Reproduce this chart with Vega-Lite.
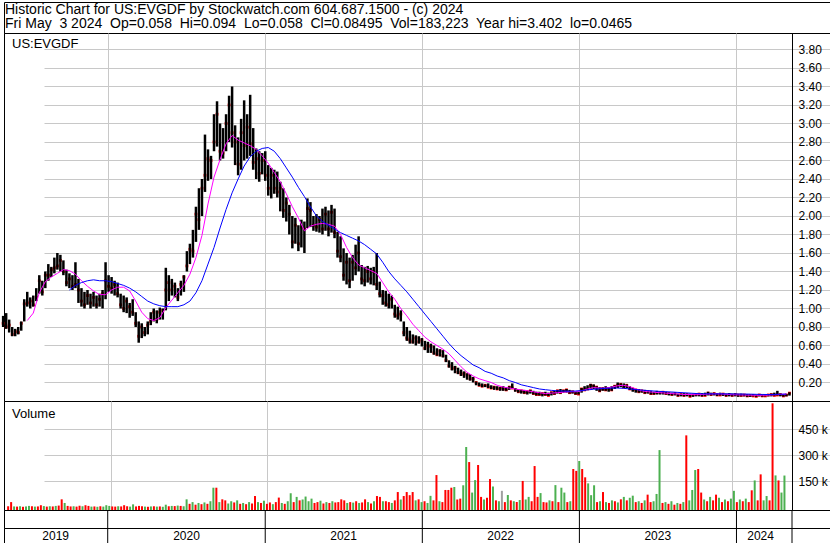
{
"$schema":"https://vega.github.io/schema/vega-lite/v6.json",
"padding":{"left":1,"top":1,"right":0,"bottom":0},
"spacing":0,
"bounds":"flush",
"background":"white",
"config":{"view":{"stroke":"#000","strokeWidth":1},"font":"Liberation Sans","axis":{"labelFont":"Liberation Sans","labelColor":"#000","gridColor":"#c8c8c8","gridOpacity":1,"gridWidth":1},"title":{"font":"Liberation Sans","fontWeight":"normal","fontSize":13,"color":"#000"}},
"datasets":{
"hdr":[{"t":["Historic Chart for US:EVGDF by Stockwatch.com 604.687.1500 - (c) 2024","Fri May\u00a0 3 2024\u00a0 Op=0.058\u00a0 Hi=0.094\u00a0 Lo=0.058\u00a0 Cl=0.08495\u00a0 Vol=183,223\u00a0 Year hi=3.402\u00a0 lo=0.0465"]}],
"yb":[{"d":"2020-01-01"},{"d":"2021-01-01"},{"d":"2022-01-01"},{"d":"2023-01-01"},{"d":"2024-01-01"},{"d":"2024-05-09"}],
"yl":[{"yr":"2019","d":"2019-09-02"},{"yr":"2020","d":"2020-07-02"},{"yr":"2021","d":"2021-07-02"},{"yr":"2022","d":"2022-07-02"},{"yr":"2023","d":"2023-07-02"},{"yr":"2024","d":"2024-02-26"}],
"p":[
{"d":"2019-05-03","h":0.92,"l":0.80,"c":0.84,"v":6000,"s":"d"},
{"d":"2019-05-10","h":0.95,"l":0.78,"c":0.80,"v":30000,"s":"d"},
{"d":"2019-05-17","h":0.88,"l":0.74,"c":0.82,"v":5000,"s":"u"},
{"d":"2019-05-24","h":0.80,"l":0.70,"c":0.72,"v":4000,"s":"d"},
{"d":"2019-05-31","h":0.78,"l":0.70,"c":0.75,"v":6000,"s":"u"},
{"d":"2019-06-07","h":0.80,"l":0.72,"c":0.74,"v":3000,"s":"d"},
{"d":"2019-06-14","h":0.86,"l":0.76,"c":0.84,"v":5000,"s":"u"},
{"d":"2019-06-21","h":1.10,"l":0.86,"c":1.05,"v":8000,"s":"u"},
{"d":"2019-06-28","h":1.18,"l":1.02,"c":1.06,"v":6000,"s":"d","m1":0.87},
{"d":"2019-07-05","h":1.12,"l":1.00,"c":1.08,"v":4000,"s":"u"},
{"d":"2019-07-12","h":1.14,"l":1.02,"c":1.04,"v":5000,"s":"d","m1":0.95},
{"d":"2019-07-19","h":1.22,"l":1.08,"c":1.12,"v":12000,"s":"d"},
{"d":"2019-07-26","h":1.36,"l":1.16,"c":1.30,"v":7000,"s":"u","m1":1.17},
{"d":"2019-08-02","h":1.30,"l":1.14,"c":1.18,"v":4000,"s":"d"},
{"d":"2019-08-09","h":1.40,"l":1.22,"c":1.36,"v":6000,"s":"u","m1":1.29},
{"d":"2019-08-16","h":1.48,"l":1.30,"c":1.36,"v":5000,"s":"d"},
{"d":"2019-08-23","h":1.45,"l":1.34,"c":1.42,"v":8000,"s":"u","m1":1.34},
{"d":"2019-08-30","h":1.55,"l":1.38,"c":1.44,"v":10000,"s":"d"},
{"d":"2019-09-06","h":1.60,"l":1.42,"c":1.46,"v":46000,"s":"d","m1":1.38},
{"d":"2019-09-13","h":1.58,"l":1.40,"c":1.52,"v":25000,"s":"u"},
{"d":"2019-09-20","h":1.52,"l":1.36,"c":1.40,"v":8000,"s":"d","m1":1.42},
{"d":"2019-09-27","h":1.42,"l":1.24,"c":1.28,"v":5000,"s":"d"},
{"d":"2019-10-04","h":1.38,"l":1.22,"c":1.32,"v":6000,"s":"u","m1":1.41,"m2":1.20},
{"d":"2019-10-11","h":1.36,"l":1.20,"c":1.24,"v":4000,"s":"d"},
{"d":"2019-10-18","h":1.50,"l":1.22,"c":1.26,"v":9000,"s":"d","m1":1.37,"m2":1.25},
{"d":"2019-10-25","h":1.32,"l":1.06,"c":1.20,"v":6000,"s":"u"},
{"d":"2019-11-01","h":1.22,"l":1.02,"c":1.08,"v":12000,"s":"d","m1":1.30,"m2":1.28},
{"d":"2019-11-08","h":1.18,"l":1.00,"c":1.04,"v":8000,"s":"d"},
{"d":"2019-11-15","h":1.20,"l":1.04,"c":1.14,"v":4000,"s":"u","m1":1.24,"m2":1.30},
{"d":"2019-11-22","h":1.16,"l":1.00,"c":1.06,"v":5000,"s":"d"},
{"d":"2019-11-29","h":1.18,"l":1.02,"c":1.12,"v":3000,"s":"u","m1":1.19,"m2":1.31},
{"d":"2019-12-06","h":1.14,"l":1.00,"c":1.04,"v":6000,"s":"d"},
{"d":"2019-12-13","h":1.16,"l":1.02,"c":1.10,"v":4000,"s":"u","m1":1.15,"m2":1.30},
{"d":"2019-12-20","h":1.20,"l":1.00,"c":1.16,"v":12000,"s":"u"},
{"d":"2019-12-27","h":1.50,"l":1.10,"c":1.30,"v":8000,"s":"u","m1":1.15,"m2":1.30},
{"d":"2020-01-03","h":1.36,"l":1.18,"c":1.24,"v":5000,"s":"d"},
{"d":"2020-01-10","h":1.34,"l":1.16,"c":1.22,"v":4000,"s":"d","m1":1.20,"m2":1.29},
{"d":"2020-01-17","h":1.30,"l":1.14,"c":1.26,"v":6000,"s":"u"},
{"d":"2020-01-24","h":1.28,"l":1.12,"c":1.16,"v":5000,"s":"d","m1":1.23,"m2":1.27},
{"d":"2020-01-31","h":1.16,"l":1.00,"c":1.04,"v":12000,"s":"d"},
{"d":"2020-02-07","h":1.14,"l":0.96,"c":1.00,"v":6000,"s":"d","m1":1.23,"m2":1.25},
{"d":"2020-02-14","h":1.12,"l":0.95,"c":1.08,"v":4000,"s":"u"},
{"d":"2020-02-21","h":1.06,"l":0.90,"c":1.02,"v":17000,"s":"u","m1":1.19,"m2":1.22},
{"d":"2020-02-28","h":1.10,"l":0.92,"c":0.96,"v":5000,"s":"d"},
{"d":"2020-03-06","h":0.96,"l":0.80,"c":0.84,"v":8000,"s":"d","m1":1.08,"m2":1.18},
{"d":"2020-03-13","h":0.86,"l":0.63,"c":0.70,"v":6000,"s":"d"},
{"d":"2020-03-20","h":0.84,"l":0.68,"c":0.80,"v":4000,"s":"u","m1":0.96,"m2":1.13},
{"d":"2020-03-27","h":0.80,"l":0.70,"c":0.74,"v":3000,"s":"d"},
{"d":"2020-04-03","h":0.86,"l":0.72,"c":0.82,"v":5000,"s":"u","m1":0.89,"m2":1.08},
{"d":"2020-04-10","h":0.96,"l":0.82,"c":0.86,"v":6000,"s":"d"},
{"d":"2020-04-17","h":1.00,"l":0.86,"c":0.96,"v":4000,"s":"u","m1":0.87,"m2":1.05},
{"d":"2020-04-24","h":0.98,"l":0.84,"c":0.88,"v":5000,"s":"d"},
{"d":"2020-05-01","h":1.01,"l":0.88,"c":0.96,"v":3000,"s":"u","m1":0.90,"m2":1.03},
{"d":"2020-05-08","h":1.00,"l":0.88,"c":0.98,"v":15000,"s":"u"},
{"d":"2020-05-15","h":1.44,"l":0.98,"c":1.20,"v":6000,"s":"d","m1":1.01,"m2":1.02},
{"d":"2020-05-22","h":1.36,"l":1.08,"c":1.28,"v":8000,"s":"u"},
{"d":"2020-05-29","h":1.32,"l":1.14,"c":1.20,"v":7000,"s":"d","m1":1.09,"m2":1.02},
{"d":"2020-06-05","h":1.28,"l":1.12,"c":1.24,"v":10000,"s":"u"},
{"d":"2020-06-12","h":1.22,"l":1.08,"c":1.12,"v":8000,"s":"d","m1":1.17,"m2":1.02},
{"d":"2020-06-19","h":1.30,"l":1.14,"c":1.26,"v":6000,"s":"u"},
{"d":"2020-06-26","h":1.36,"l":1.18,"c":1.34,"v":46000,"s":"u","m1":1.25,"m2":1.04},
{"d":"2020-07-03","h":1.62,"l":1.40,"c":1.46,"v":20000,"s":"d"},
{"d":"2020-07-10","h":1.70,"l":1.48,"c":1.64,"v":30000,"s":"u","m1":1.37,"m2":1.08},
{"d":"2020-07-17","h":1.85,"l":1.55,"c":1.62,"v":15000,"s":"d"},
{"d":"2020-07-24","h":2.10,"l":1.72,"c":2.02,"v":25000,"s":"u","m1":1.55,"m2":1.17},
{"d":"2020-07-31","h":2.30,"l":1.85,"c":1.96,"v":18000,"s":"d"},
{"d":"2020-08-07","h":2.40,"l":2.00,"c":2.30,"v":28000,"s":"u","m1":1.79,"m2":1.30},
{"d":"2020-08-14","h":2.88,"l":2.26,"c":2.44,"v":20000,"s":"d"},
{"d":"2020-08-21","h":2.72,"l":2.38,"c":2.62,"v":35000,"s":"u","m1":2.13,"m2":1.48},
{"d":"2020-08-28","h":2.65,"l":2.40,"c":2.60,"v":113000,"s":"u"},
{"d":"2020-09-04","h":3.10,"l":2.70,"c":2.80,"v":113000,"s":"d","m1":2.42,"m2":1.66},
{"d":"2020-09-11","h":3.24,"l":2.75,"c":3.10,"v":30000,"s":"u"},
{"d":"2020-09-18","h":3.00,"l":2.60,"c":2.70,"v":46000,"s":"d","m1":2.61,"m2":1.87},
{"d":"2020-09-25","h":2.95,"l":2.62,"c":2.68,"v":40000,"s":"d"},
{"d":"2020-10-02","h":3.10,"l":2.70,"c":3.00,"v":22000,"s":"u","m1":2.78,"m2":2.07},
{"d":"2020-10-09","h":3.30,"l":2.80,"c":3.20,"v":35000,"s":"u"},
{"d":"2020-10-16","h":3.40,"l":2.74,"c":2.90,"v":28000,"s":"d","m1":2.87,"m2":2.25},
{"d":"2020-10-23","h":2.98,"l":2.55,"c":2.80,"v":40000,"s":"u"},
{"d":"2020-10-30","h":2.85,"l":2.44,"c":2.56,"v":20000,"s":"d","m1":2.82,"m2":2.40},
{"d":"2020-11-06","h":3.05,"l":2.50,"c":2.90,"v":25000,"s":"u"},
{"d":"2020-11-13","h":3.25,"l":2.60,"c":2.76,"v":18000,"s":"d","m1":2.79,"m2":2.54},
{"d":"2020-11-20","h":3.10,"l":2.62,"c":2.96,"v":30000,"s":"u"},
{"d":"2020-11-27","h":3.31,"l":2.65,"c":2.78,"v":22000,"s":"d","m1":2.76,"m2":2.64},
{"d":"2020-12-04","h":2.95,"l":2.50,"c":2.58,"v":65000,"s":"d"},
{"d":"2020-12-11","h":2.73,"l":2.40,"c":2.62,"v":30000,"s":"u","m1":2.72,"m2":2.70},
{"d":"2020-12-18","h":2.70,"l":2.37,"c":2.46,"v":25000,"s":"d"},
{"d":"2020-12-25","h":2.68,"l":2.45,"c":2.60,"v":38000,"s":"u","m1":2.65,"m2":2.73},
{"d":"2021-01-01","h":2.70,"l":2.38,"c":2.44,"v":20000,"s":"d"},
{"d":"2021-01-08","h":2.55,"l":2.22,"c":2.30,"v":28000,"s":"d","m1":2.57,"m2":2.74},
{"d":"2021-01-15","h":2.52,"l":2.19,"c":2.44,"v":18000,"s":"u"},
{"d":"2021-01-22","h":2.50,"l":2.24,"c":2.30,"v":30000,"s":"d","m1":2.47,"m2":2.70},
{"d":"2021-01-29","h":2.48,"l":2.20,"c":2.26,"v":56000,"s":"d"},
{"d":"2021-02-05","h":2.37,"l":2.05,"c":2.30,"v":25000,"s":"u","m1":2.37,"m2":2.62},
{"d":"2021-02-12","h":2.30,"l":1.98,"c":2.06,"v":20000,"s":"d"},
{"d":"2021-02-19","h":2.20,"l":1.94,"c":2.14,"v":35000,"s":"u","m1":2.24,"m2":2.52},
{"d":"2021-02-26","h":2.12,"l":1.80,"c":2.02,"v":81000,"s":"u"},
{"d":"2021-03-05","h":2.00,"l":1.65,"c":1.72,"v":30000,"s":"d","m1":2.10,"m2":2.42},
{"d":"2021-03-12","h":1.98,"l":1.70,"c":1.90,"v":60000,"s":"u"},
{"d":"2021-03-19","h":1.90,"l":1.62,"c":1.70,"v":40000,"s":"d","m1":1.98,"m2":2.31},
{"d":"2021-03-26","h":1.96,"l":1.66,"c":1.88,"v":45000,"s":"u"},
{"d":"2021-04-02","h":1.94,"l":1.60,"c":1.86,"v":62000,"s":"u","m1":1.84,"m2":2.21},
{"d":"2021-04-09","h":2.19,"l":1.87,"c":2.08,"v":35000,"s":"u"},
{"d":"2021-04-16","h":2.15,"l":1.88,"c":2.06,"v":50000,"s":"u","m1":1.89,"m2":2.10},
{"d":"2021-04-23","h":2.00,"l":1.84,"c":1.90,"v":25000,"s":"d"},
{"d":"2021-04-30","h":2.02,"l":1.83,"c":1.88,"v":30000,"s":"d","m1":1.91,"m2":2.00},
{"d":"2021-05-07","h":2.00,"l":1.82,"c":1.96,"v":38000,"s":"u"},
{"d":"2021-05-14","h":2.08,"l":1.80,"c":1.86,"v":22000,"s":"d","m1":1.92,"m2":1.94},
{"d":"2021-05-21","h":2.10,"l":1.84,"c":2.02,"v":30000,"s":"u"},
{"d":"2021-05-28","h":2.06,"l":1.78,"c":1.86,"v":25000,"s":"d","m1":1.91,"m2":1.90},
{"d":"2021-06-04","h":2.12,"l":1.82,"c":2.04,"v":35000,"s":"u"},
{"d":"2021-06-11","h":2.08,"l":1.76,"c":1.82,"v":28000,"s":"d","m1":1.89,"m2":1.86},
{"d":"2021-06-18","h":1.83,"l":1.55,"c":1.62,"v":30000,"s":"d"},
{"d":"2021-06-25","h":1.78,"l":1.50,"c":1.56,"v":46000,"s":"d","m1":1.80,"m2":1.82},
{"d":"2021-07-02","h":1.65,"l":1.30,"c":1.36,"v":40000,"s":"d"},
{"d":"2021-07-09","h":1.60,"l":1.26,"c":1.50,"v":25000,"s":"u","m1":1.66,"m2":1.79},
{"d":"2021-07-16","h":1.55,"l":1.22,"c":1.30,"v":30000,"s":"d"},
{"d":"2021-07-23","h":1.58,"l":1.30,"c":1.50,"v":27000,"s":"u","m1":1.55,"m2":1.76},
{"d":"2021-07-30","h":1.69,"l":1.36,"c":1.44,"v":35000,"s":"d"},
{"d":"2021-08-06","h":1.78,"l":1.40,"c":1.60,"v":25000,"s":"u","m1":1.47,"m2":1.73},
{"d":"2021-08-13","h":1.47,"l":1.26,"c":1.32,"v":28000,"s":"d"},
{"d":"2021-08-20","h":1.45,"l":1.24,"c":1.30,"v":46000,"s":"d","m1":1.44,"m2":1.69},
{"d":"2021-08-27","h":1.46,"l":1.28,"c":1.40,"v":30000,"s":"u"},
{"d":"2021-09-03","h":1.44,"l":1.26,"c":1.32,"v":22000,"s":"d","m1":1.41,"m2":1.64},
{"d":"2021-09-10","h":1.45,"l":1.25,"c":1.40,"v":35000,"s":"u"},
{"d":"2021-09-17","h":1.60,"l":1.20,"c":1.26,"v":65000,"s":"d","m1":1.38,"m2":1.59},
{"d":"2021-09-24","h":1.29,"l":1.12,"c":1.16,"v":60000,"s":"d"},
{"d":"2021-10-01","h":1.20,"l":1.04,"c":1.14,"v":35000,"s":"u","m1":1.28,"m2":1.50},
{"d":"2021-10-08","h":1.19,"l":1.02,"c":1.06,"v":35000,"s":"d"},
{"d":"2021-10-15","h":1.16,"l":1.00,"c":1.04,"v":30000,"s":"d","m1":1.18,"m2":1.40},
{"d":"2021-10-22","h":1.14,"l":1.00,"c":1.10,"v":25000,"s":"u"},
{"d":"2021-10-29","h":1.04,"l":0.90,"c":0.94,"v":40000,"s":"d","m1":1.10,"m2":1.32},
{"d":"2021-11-05","h":1.02,"l":0.88,"c":0.92,"v":88000,"s":"d"},
{"d":"2021-11-12","h":0.98,"l":0.86,"c":0.94,"v":45000,"s":"u","m1":1.00,"m2":1.25},
{"d":"2021-11-19","h":0.86,"l":0.70,"c":0.74,"v":65000,"s":"d"},
{"d":"2021-11-26","h":0.80,"l":0.65,"c":0.68,"v":88000,"s":"d","m1":0.92,"m2":1.18},
{"d":"2021-12-03","h":0.76,"l":0.62,"c":0.66,"v":70000,"s":"d"},
{"d":"2021-12-10","h":0.72,"l":0.62,"c":0.64,"v":88000,"s":"d","m1":0.83,"m2":1.10},
{"d":"2021-12-17","h":0.71,"l":0.60,"c":0.68,"v":40000,"s":"u"},
{"d":"2021-12-24","h":0.70,"l":0.62,"c":0.64,"v":46000,"s":"d","m1":0.76,"m2":1.02},
{"d":"2021-12-31","h":0.68,"l":0.59,"c":0.66,"v":30000,"s":"u"},
{"d":"2022-01-07","h":0.65,"l":0.55,"c":0.57,"v":35000,"s":"d","m1":0.69,"m2":0.94},
{"d":"2022-01-14","h":0.64,"l":0.52,"c":0.60,"v":25000,"s":"u"},
{"d":"2022-01-21","h":0.62,"l":0.52,"c":0.59,"v":66000,"s":"u","m1":0.64,"m2":0.86},
{"d":"2022-01-28","h":0.60,"l":0.50,"c":0.52,"v":40000,"s":"d"},
{"d":"2022-02-04","h":0.57,"l":0.49,"c":0.50,"v":186000,"s":"d","m1":0.60,"m2":0.78},
{"d":"2022-02-11","h":0.56,"l":0.48,"c":0.54,"v":35000,"s":"u"},
{"d":"2022-02-18","h":0.55,"l":0.47,"c":0.49,"v":30000,"s":"d","m1":0.56,"m2":0.70},
{"d":"2022-02-25","h":0.50,"l":0.42,"c":0.44,"v":100000,"s":"d"},
{"d":"2022-03-04","h":0.44,"l":0.36,"c":0.38,"v":100000,"s":"d","m1":0.51,"m2":0.62},
{"d":"2022-03-11","h":0.42,"l":0.33,"c":0.35,"v":113000,"s":"d"},
{"d":"2022-03-18","h":0.38,"l":0.30,"c":0.36,"v":117000,"s":"u","m1":0.44,"m2":0.55},
{"d":"2022-03-25","h":0.36,"l":0.29,"c":0.31,"v":45000,"s":"d"},
{"d":"2022-04-01","h":0.34,"l":0.27,"c":0.29,"v":50000,"s":"d","m1":0.37,"m2":0.49},
{"d":"2022-04-08","h":0.32,"l":0.25,"c":0.30,"v":127000,"s":"u"},
{"d":"2022-04-15","h":0.30,"l":0.23,"c":0.28,"v":348000,"s":"u","m1":0.31,"m2":0.44},
{"d":"2022-04-22","h":0.29,"l":0.22,"c":0.24,"v":261000,"s":"d"},
{"d":"2022-04-29","h":0.26,"l":0.20,"c":0.24,"v":85000,"s":"u","m1":0.27,"m2":0.39},
{"d":"2022-05-06","h":0.21,"l":0.17,"c":0.20,"v":157000,"s":"u"},
{"d":"2022-05-13","h":0.20,"l":0.16,"c":0.17,"v":244000,"s":"d","m1":0.24,"m2":0.36},
{"d":"2022-05-20","h":0.19,"l":0.15,"c":0.16,"v":60000,"s":"d"},
{"d":"2022-05-27","h":0.18,"l":0.15,"c":0.17,"v":45000,"s":"u","m1":0.22,"m2":0.32},
{"d":"2022-06-03","h":0.19,"l":0.14,"c":0.15,"v":55000,"s":"d"},
{"d":"2022-06-10","h":0.17,"l":0.13,"c":0.14,"v":163000,"s":"d","m1":0.20,"m2":0.30},
{"d":"2022-06-17","h":0.16,"l":0.12,"c":0.15,"v":120000,"s":"u"},
{"d":"2022-06-24","h":0.16,"l":0.12,"c":0.13,"v":40000,"s":"d","m1":0.17,"m2":0.27},
{"d":"2022-07-01","h":0.15,"l":0.11,"c":0.14,"v":35000,"s":"u"},
{"d":"2022-07-08","h":0.16,"l":0.11,"c":0.13,"v":95000,"s":"n","m1":0.15,"m2":0.25},
{"d":"2022-07-15","h":0.15,"l":0.11,"c":0.12,"v":30000,"s":"d"},
{"d":"2022-07-22","h":0.16,"l":0.12,"c":0.15,"v":71000,"s":"u","m1":0.14,"m2":0.22},
{"d":"2022-07-29","h":0.19,"l":0.13,"c":0.14,"v":40000,"s":"d"},
{"d":"2022-08-05","h":0.14,"l":0.10,"c":0.12,"v":35000,"s":"u","m1":0.13,"m2":0.20},
{"d":"2022-08-12","h":0.13,"l":0.09,"c":0.10,"v":30000,"s":"d"},
{"d":"2022-08-19","h":0.12,"l":0.08,"c":0.11,"v":42000,"s":"u","m1":0.12,"m2":0.175},
{"d":"2022-08-26","h":0.12,"l":0.08,"c":0.09,"v":152000,"s":"d"},
{"d":"2022-09-02","h":0.11,"l":0.07,"c":0.10,"v":45000,"s":"u","m1":0.11,"m2":0.16},
{"d":"2022-09-09","h":0.12,"l":0.08,"c":0.11,"v":60000,"s":"u"},
{"d":"2022-09-16","h":0.11,"l":0.07,"c":0.08,"v":35000,"s":"d","m1":0.10,"m2":0.145},
{"d":"2022-09-23","h":0.10,"l":0.06,"c":0.07,"v":238000,"s":"d"},
{"d":"2022-09-30","h":0.10,"l":0.06,"c":0.07,"v":60000,"s":"d","m1":0.09,"m2":0.13},
{"d":"2022-10-07","h":0.09,"l":0.05,"c":0.08,"v":82000,"s":"u"},
{"d":"2022-10-14","h":0.10,"l":0.06,"c":0.07,"v":30000,"s":"d","m1":0.08,"m2":0.122},
{"d":"2022-10-21","h":0.09,"l":0.055,"c":0.06,"v":28000,"s":"d"},
{"d":"2022-10-28","h":0.10,"l":0.06,"c":0.09,"v":40000,"s":"u","m1":0.085,"m2":0.115},
{"d":"2022-11-04","h":0.11,"l":0.07,"c":0.08,"v":35000,"s":"d"},
{"d":"2022-11-11","h":0.12,"l":0.08,"c":0.11,"v":128000,"s":"u","m1":0.09,"m2":0.11},
{"d":"2022-11-18","h":0.13,"l":0.08,"c":0.09,"v":30000,"s":"d"},
{"d":"2022-11-25","h":0.12,"l":0.09,"c":0.11,"v":113000,"s":"u","m1":0.095,"m2":0.107},
{"d":"2022-12-02","h":0.13,"l":0.09,"c":0.12,"v":85000,"s":"u"},
{"d":"2022-12-09","h":0.12,"l":0.08,"c":0.09,"v":30000,"s":"d","m1":0.10,"m2":0.106},
{"d":"2022-12-16","h":0.11,"l":0.08,"c":0.10,"v":35000,"s":"u"},
{"d":"2022-12-23","h":0.10,"l":0.07,"c":0.08,"v":221000,"s":"d","m1":0.10,"m2":0.108},
{"d":"2022-12-30","h":0.10,"l":0.07,"c":0.075,"v":210000,"s":"d"},
{"d":"2023-01-06","h":0.14,"l":0.09,"c":0.13,"v":267000,"s":"u","m1":0.11,"m2":0.113},
{"d":"2023-01-13","h":0.16,"l":0.11,"c":0.12,"v":221000,"s":"d"},
{"d":"2023-01-20","h":0.17,"l":0.12,"c":0.13,"v":173000,"s":"d","m1":0.13,"m2":0.12},
{"d":"2023-01-27","h":0.185,"l":0.13,"c":0.17,"v":138000,"s":"u"},
{"d":"2023-02-03","h":0.18,"l":0.13,"c":0.16,"v":70000,"s":"u","m1":0.145,"m2":0.127},
{"d":"2023-02-10","h":0.16,"l":0.11,"c":0.15,"v":127000,"s":"u"},
{"d":"2023-02-17","h":0.15,"l":0.10,"c":0.11,"v":30000,"s":"d","m1":0.14,"m2":0.132},
{"d":"2023-02-24","h":0.15,"l":0.11,"c":0.13,"v":35000,"s":"u"},
{"d":"2023-03-03","h":0.16,"l":0.11,"c":0.12,"v":88000,"s":"d","m1":0.14,"m2":0.137},
{"d":"2023-03-10","h":0.15,"l":0.10,"c":0.13,"v":30000,"s":"u"},
{"d":"2023-03-17","h":0.16,"l":0.11,"c":0.12,"v":25000,"s":"d","m1":0.15,"m2":0.14},
{"d":"2023-03-24","h":0.17,"l":0.13,"c":0.16,"v":40000,"s":"u"},
{"d":"2023-03-31","h":0.20,"l":0.14,"c":0.17,"v":35000,"s":"d","m1":0.165,"m2":0.14},
{"d":"2023-04-07","h":0.19,"l":0.15,"c":0.18,"v":28000,"s":"u"},
{"d":"2023-04-14","h":0.19,"l":0.14,"c":0.15,"v":46000,"s":"d","m1":0.17,"m2":0.137},
{"d":"2023-04-21","h":0.18,"l":0.14,"c":0.17,"v":60000,"s":"u"},
{"d":"2023-04-28","h":0.16,"l":0.12,"c":0.13,"v":40000,"s":"d","m1":0.155,"m2":0.13},
{"d":"2023-05-05","h":0.14,"l":0.10,"c":0.13,"v":55000,"s":"u"},
{"d":"2023-05-12","h":0.13,"l":0.09,"c":0.12,"v":67000,"s":"u","m1":0.13,"m2":0.124},
{"d":"2023-05-19","h":0.13,"l":0.09,"c":0.10,"v":30000,"s":"d"},
{"d":"2023-05-26","h":0.12,"l":0.09,"c":0.11,"v":35000,"s":"u","m1":0.11,"m2":0.118},
{"d":"2023-06-02","h":0.12,"l":0.08,"c":0.09,"v":25000,"s":"d"},
{"d":"2023-06-09","h":0.11,"l":0.08,"c":0.10,"v":40000,"s":"u","m1":0.10,"m2":0.113},
{"d":"2023-06-16","h":0.11,"l":0.07,"c":0.08,"v":73000,"s":"d"},
{"d":"2023-06-23","h":0.10,"l":0.07,"c":0.08,"v":30000,"s":"d","m1":0.095,"m2":0.108},
{"d":"2023-06-30","h":0.11,"l":0.07,"c":0.09,"v":35000,"s":"u"},
{"d":"2023-07-07","h":0.10,"l":0.07,"c":0.09,"v":77000,"s":"u","m1":0.09,"m2":0.104},
{"d":"2023-07-14","h":0.10,"l":0.07,"c":0.095,"v":330000,"s":"u"},
{"d":"2023-07-21","h":0.10,"l":0.07,"c":0.08,"v":25000,"s":"d","m1":0.085,"m2":0.10},
{"d":"2023-07-28","h":0.09,"l":0.06,"c":0.08,"v":30000,"s":"u"},
{"d":"2023-08-04","h":0.09,"l":0.06,"c":0.07,"v":20000,"s":"d","m1":0.08,"m2":0.097},
{"d":"2023-08-11","h":0.09,"l":0.06,"c":0.08,"v":35000,"s":"u"},
{"d":"2023-08-18","h":0.08,"l":0.05,"c":0.06,"v":15000,"s":"d","m1":0.075,"m2":0.093},
{"d":"2023-08-25","h":0.08,"l":0.05,"c":0.07,"v":25000,"s":"u"},
{"d":"2023-09-01","h":0.085,"l":0.05,"c":0.06,"v":20000,"s":"d","m1":0.07,"m2":0.089},
{"d":"2023-09-08","h":0.08,"l":0.05,"c":0.07,"v":30000,"s":"u"},
{"d":"2023-09-15","h":0.08,"l":0.045,"c":0.05,"v":415000,"s":"d","m1":0.07,"m2":0.085},
{"d":"2023-09-22","h":0.075,"l":0.045,"c":0.065,"v":40000,"s":"u"},
{"d":"2023-09-29","h":0.08,"l":0.05,"c":0.07,"v":100000,"s":"u","m1":0.068,"m2":0.081},
{"d":"2023-10-06","h":0.08,"l":0.05,"c":0.075,"v":215000,"s":"u"},
{"d":"2023-10-13","h":0.085,"l":0.05,"c":0.06,"v":221000,"s":"d","m1":0.07,"m2":0.078},
{"d":"2023-10-20","h":0.09,"l":0.055,"c":0.06,"v":85000,"s":"d"},
{"d":"2023-10-27","h":0.10,"l":0.06,"c":0.085,"v":45000,"s":"u","m1":0.075,"m2":0.077},
{"d":"2023-11-03","h":0.09,"l":0.06,"c":0.07,"v":35000,"s":"d"},
{"d":"2023-11-10","h":0.09,"l":0.06,"c":0.08,"v":60000,"s":"u","m1":0.077,"m2":0.077},
{"d":"2023-11-17","h":0.085,"l":0.055,"c":0.065,"v":40000,"s":"d"},
{"d":"2023-11-24","h":0.09,"l":0.06,"c":0.065,"v":73000,"s":"d","m1":0.077,"m2":0.077},
{"d":"2023-12-01","h":0.085,"l":0.055,"c":0.075,"v":55000,"s":"u"},
{"d":"2023-12-08","h":0.08,"l":0.05,"c":0.06,"v":30000,"s":"d","m1":0.072,"m2":0.077},
{"d":"2023-12-15","h":0.085,"l":0.05,"c":0.07,"v":45000,"s":"u"},
{"d":"2023-12-22","h":0.08,"l":0.05,"c":0.06,"v":35000,"s":"d","m1":0.068,"m2":0.077},
{"d":"2023-12-29","h":0.08,"l":0.05,"c":0.07,"v":50000,"s":"u"},
{"d":"2024-01-05","h":0.075,"l":0.045,"c":0.065,"v":95000,"s":"u","m1":0.066,"m2":0.076},
{"d":"2024-01-12","h":0.08,"l":0.05,"c":0.06,"v":30000,"s":"d"},
{"d":"2024-01-19","h":0.075,"l":0.05,"c":0.065,"v":45000,"s":"u","m1":0.065,"m2":0.075},
{"d":"2024-01-26","h":0.075,"l":0.045,"c":0.055,"v":35000,"s":"d"},
{"d":"2024-02-02","h":0.07,"l":0.045,"c":0.06,"v":50000,"s":"u","m1":0.063,"m2":0.074},
{"d":"2024-02-09","h":0.075,"l":0.05,"c":0.055,"v":30000,"s":"d"},
{"d":"2024-02-16","h":0.07,"l":0.045,"c":0.05,"v":98000,"s":"d","m1":0.062,"m2":0.072},
{"d":"2024-02-23","h":0.075,"l":0.05,"c":0.065,"v":155000,"s":"u"},
{"d":"2024-03-01","h":0.07,"l":0.047,"c":0.055,"v":40000,"s":"d","m1":0.062,"m2":0.071},
{"d":"2024-03-08","h":0.07,"l":0.05,"c":0.055,"v":190000,"s":"d"},
{"d":"2024-03-15","h":0.075,"l":0.05,"c":0.065,"v":40000,"s":"u","m1":0.063,"m2":0.07},
{"d":"2024-03-22","h":0.08,"l":0.05,"c":0.07,"v":65000,"s":"u"},
{"d":"2024-03-29","h":0.09,"l":0.055,"c":0.06,"v":40000,"s":"d","m1":0.067,"m2":0.071},
{"d":"2024-04-05","h":0.11,"l":0.06,"c":0.065,"v":600000,"s":"d"},
{"d":"2024-04-12","h":0.08,"l":0.05,"c":0.07,"v":184000,"s":"u","m1":0.072,"m2":0.073},
{"d":"2024-04-19","h":0.07,"l":0.047,"c":0.055,"v":155000,"s":"d"},
{"d":"2024-04-26","h":0.075,"l":0.05,"c":0.065,"v":85000,"s":"u","m1":0.074,"m2":0.075},
{"d":"2024-05-03","h":0.094,"l":0.058,"c":0.085,"v":183223,"s":"u"}
]},
"vconcat":[
{"width":828,"height":31,"data":{"name":"hdr"},
 "mark":{"type":"text","align":"left","baseline":"alphabetic","fontSize":14,"lineHeight":14,"font":"Liberation Sans","color":"#000"},
 "encoding":{"x":{"value":1},"y":{"value":11.8},"text":{"field":"t"}}},
{"width":828,"height":368,"data":{"name":"p"},
 "title":{"text":"US:EVGDF","anchor":"start","frame":"group","offset":-18,"dx":8,"fontSize":13,"fontWeight":"normal"},
 "encoding":{"x":{"field":"d","type":"temporal","title":null,
   "scale":{"type":"utc","domain":[{"year":2019,"month":5,"date":5,"utc":true},{"year":2024,"month":5,"date":9,"utc":true}],"range":[0,788]},
   "axis":{"values":[{"year":2020,"month":1,"date":1,"utc":true},{"year":2021,"month":1,"date":1,"utc":true},{"year":2022,"month":1,"date":1,"utc":true},{"year":2023,"month":1,"date":1,"utc":true},{"year":2024,"month":1,"date":1,"utc":true}],"grid":true,"labels":false,"ticks":false,"domain":false,"title":null}}},
 "layer":[
  {"mark":{"type":"square","color":"#ff0000","size":8,"opacity":1},
   "encoding":{"y":{"field":"c","type":"quantitative","title":null,"scale":{"domain":[0,3.978],"nice":false,"zero":false},
     "axis":{"orient":"right","offset":-40,"values":[0.2,0.4,0.6,0.8,1.0,1.2,1.4,1.6,1.8,2.0,2.2,2.4,2.6,2.8,3.0,3.2,3.4,3.6,3.8],"tickCount":40,"format":".2f","labelOverlap":false,"grid":true,"ticks":false,"domain":true,"domainColor":"#000","labelPadding":6,"labelFontSize":12,"labelColor":"#000","title":null}}}},
  {"mark":{"type":"rule","color":"#000","strokeWidth":2.5},
   "encoding":{"y":{"field":"h","type":"quantitative","title":null},"y2":{"field":"l"}}},
  {"transform":[{"filter":"isValid(datum.m1)"}],
   "mark":{"type":"line","color":"#ff00ff","strokeWidth":1},
   "encoding":{"y":{"field":"m1","type":"quantitative","title":null}}},
  {"transform":[{"filter":"isValid(datum.m2)"}],
   "mark":{"type":"line","color":"#0000ff","strokeWidth":1},
   "encoding":{"y":{"field":"m2","type":"quantitative","title":null}}}
 ]},
{"width":828,"height":109,"data":{"name":"p"},
 "title":{"text":"Volume","anchor":"start","frame":"group","offset":-20,"dx":8,"fontSize":13,"fontWeight":"normal"},
 "mark":{"type":"bar","size":2,"clip":true},
 "encoding":{"x":{"field":"d","type":"temporal","title":null,
   "scale":{"type":"utc","domain":[{"year":2019,"month":5,"date":5,"utc":true},{"year":2024,"month":5,"date":9,"utc":true}],"range":[0,788]},
   "axis":{"values":[{"year":2020,"month":1,"date":1,"utc":true},{"year":2021,"month":1,"date":1,"utc":true},{"year":2022,"month":1,"date":1,"utc":true},{"year":2023,"month":1,"date":1,"utc":true},{"year":2024,"month":1,"date":1,"utc":true}],"grid":true,"labels":false,"ticks":false,"domain":false,"title":null}},
  "y":{"field":"v","type":"quantitative","title":null,"scale":{"domain":[-15600,613200],"nice":false,"zero":false},
   "axis":{"orient":"right","offset":-40,"values":[150000,300000,450000],"labelExpr":"(datum.value/1000) + ' k'","labelOverlap":false,"grid":true,"ticks":false,"domain":true,"domainColor":"#000","labelPadding":6,"labelFontSize":12,"labelColor":"#000","title":null}},
  "y2":{"datum":-15600},
  "color":{"field":"s","type":"nominal","scale":{"domain":["u","d","n"],"range":["#4cb050","#ff0000","#a0a0a0"]},"legend":null}}},
{"width":828,"height":18,"data":{"name":"yb"},
 "mark":{"type":"rule","color":"#000","strokeWidth":1},
 "encoding":{"x":{"field":"d","type":"temporal","axis":null,
   "scale":{"type":"utc","domain":[{"year":2019,"month":5,"date":5,"utc":true},{"year":2024,"month":5,"date":9,"utc":true}],"range":[0,788]}}}},
{"width":828,"height":15,
 "layer":[
  {"data":{"name":"yb"},"mark":{"type":"rule","color":"#000","strokeWidth":1},
   "encoding":{"x":{"field":"d","type":"temporal","axis":null,
     "scale":{"type":"utc","domain":[{"year":2019,"month":5,"date":5,"utc":true},{"year":2024,"month":5,"date":9,"utc":true}],"range":[0,788]}}}},
  {"data":{"name":"yl"},"mark":{"type":"text","fontSize":12,"baseline":"middle","color":"#000","font":"Liberation Sans"},
   "encoding":{"x":{"field":"d","type":"temporal","axis":null},"text":{"field":"yr"}}}
 ]}
]
}
